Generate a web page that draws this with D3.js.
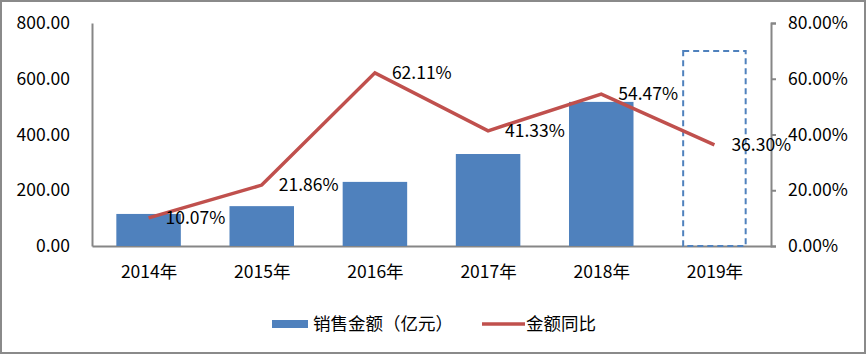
<!DOCTYPE html>
<html><head><meta charset="utf-8">
<script src="https://cdn.jsdelivr.net/npm/d3@7/dist/d3.min.js"></script>
<style>
body{margin:0;background:#fff;}
text{font-family:"Noto Sans CJK SC","Noto Sans",sans-serif;fill:#000;}
</style></head>
<body><svg id="c" width="866" height="354"></svg>
<script>
const categories = ["2014年","2015年","2016年","2017年","2018年","2019年"];
const salesValues = [115, 143, 230, 330, 517, null];
const forecastValues = [null, null, null, null, null, 700];
const growthValues = [10.07, 21.86, 62.11, 41.33, 54.47, 36.30];
const leftTicks = [0, 200, 400, 600, 800];
const rightTicks = [0, 20, 40, 60, 80];
const legendLabels = ["销售金额（亿元）", "金额同比"];

const svg = d3.select("#c");
const W = 866, H = 354;
const plot = {left: 92, right: 771, top: 23, bottom: 246};

svg.append("rect").attr("x",1).attr("y",1).attr("width",W-2).attr("height",H-2)
  .attr("fill","#fff").attr("stroke","#8a8a8a").attr("stroke-width",2);

const x = d3.scaleBand().domain(categories).range([plot.left, plot.right])
  .paddingInner(0.43).paddingOuter(0.215);
const xc = d3.scalePoint().domain(categories).range([plot.left, plot.right]).padding(0.5);
const yL = d3.scaleLinear().domain([0, 800]).range([plot.bottom, plot.top]);
const yR = d3.scaleLinear().domain([0, 80]).range([plot.bottom, plot.top]);

const axisColor = "#868686";
const fs = 17.5;

// left axis
const gl = svg.append("g").attr("transform",`translate(${plot.left},0)`)
  .call(d3.axisLeft(yL).tickValues(leftTicks).tickSize(0).tickPadding(22).tickFormat(d3.format(".2f")));
gl.select(".domain").attr("stroke",axisColor).attr("stroke-width",2);

// right axis
const gr = svg.append("g").attr("transform",`translate(${plot.right},0)`)
  .call(d3.axisRight(yR).tickValues(rightTicks).tickSize(5).tickPadding(12).tickFormat(d => d3.format(".2f")(d)+"%"));
gr.select(".domain").attr("stroke",axisColor).attr("stroke-width",2);
gr.selectAll(".tick line").attr("stroke",axisColor).attr("stroke-width",2);

// bottom axis
const gb = svg.append("g").attr("transform",`translate(0,${plot.bottom})`)
  .call(d3.axisBottom(xc).tickSize(0).tickPadding(20));
gb.select(".domain").attr("stroke",axisColor).attr("stroke-width",2);

svg.selectAll(".tick text").attr("fill","#000").attr("font-family",null).attr("font-size",null).style("font-size",fs+"px");

// bars
svg.append("g").selectAll("rect").data(categories.map((c,i)=>({c,v:salesValues[i]})).filter(d=>d.v!=null))
  .join("rect")
  .attr("x", d=>x(d.c)).attr("width", x.bandwidth())
  .attr("y", d=>yL(d.v)).attr("height", d=>yL(0)-yL(d.v))
  .attr("fill","#4f81bd");

// forecast dashed bar
svg.append("g").selectAll("rect").data(categories.map((c,i)=>({c,v:forecastValues[i]})).filter(d=>d.v!=null))
  .join("rect")
  .attr("x", d=>x(d.c)+1).attr("width", x.bandwidth()-2)
  .attr("y", d=>yL(d.v)).attr("height", d=>yL(0)-yL(d.v))
  .attr("fill","none").attr("stroke","#4f81bd").attr("stroke-width",2).attr("stroke-dasharray","6,4");

// line
const lineData = categories.map((c,i)=>({c,v:growthValues[i]}));
svg.append("path").datum(lineData)
  .attr("d", d3.line().x(d=>xc(d.c)).y(d=>yR(d.v)))
  .attr("fill","none").attr("stroke","#c0504d").attr("stroke-width",3.5).attr("stroke-linejoin","miter");

svg.append("g").selectAll("text").data(lineData).join("text")
  .attr("x", d=>xc(d.c)+17).attr("y", d=>yR(d.v))
  .attr("dy","0.35em").style("font-size",fs+"px")
  .text(d=>d3.format(".2f")(d.v)+"%");

// legend
const lg = svg.append("g");
lg.append("rect").attr("x",272).attr("y",320).attr("width",36).attr("height",8).attr("fill","#4f81bd");
lg.append("text").attr("x",313).attr("y",324).attr("dy","0.35em").style("font-size",fs+"px").text(legendLabels[0]);
lg.append("line").attr("x1",482).attr("x2",525).attr("y1",324).attr("y2",324)
  .attr("stroke","#c0504d").attr("stroke-width",3.5);
lg.append("text").attr("x",526).attr("y",324).attr("dy","0.35em").style("font-size",fs+"px").text(legendLabels[1]);
</script></body></html>
